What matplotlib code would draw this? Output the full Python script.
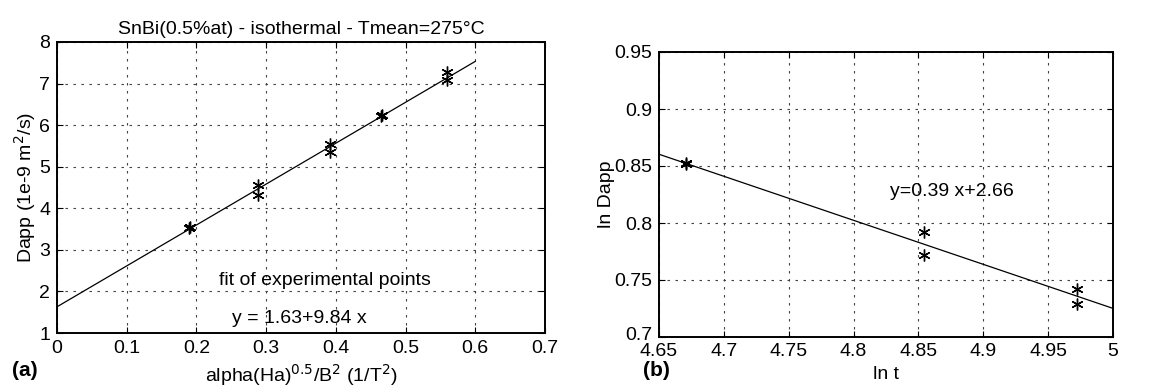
import matplotlib
matplotlib.use("Agg")
import matplotlib.pyplot as plt
import matplotlib.transforms as mtransforms
from matplotlib.ticker import FormatStrFormatter
import numpy as np

plt.rcParams['font.family'] = ['Liberation Sans', 'DejaVu Sans']

# ---- Panel (a) data ----
a_x = [0.190, 0.191, 0.288, 0.288, 0.392, 0.392, 0.465, 0.466, 0.560, 0.560]
a_y = [3.52, 3.54, 4.56, 4.32, 5.55, 5.36, 6.23, 6.25, 7.29, 7.09]
a_fit_intercept = 1.63
a_fit_slope = 9.84
a_fit_x = [0.0, 0.6]
a_xticks = [0, 0.1, 0.2, 0.3, 0.4, 0.5, 0.6, 0.7]
a_yticks = [1, 2, 3, 4, 5, 6, 7, 8]

# ---- Panel (b) data ----
b_x = [4.6705, 4.671, 4.8543, 4.8543, 4.972, 4.972]
b_y = [0.8515, 0.8525, 0.7924, 0.7719, 0.7418, 0.7287]
b_fit_slope = -0.3863
b_fit_intercept = 2.6566
b_fit_x = [4.65, 5.0]
b_xticks = [4.65, 4.7, 4.75, 4.8, 4.85, 4.9, 4.95, 5.0]
b_yticks = [0.7, 0.75, 0.8, 0.85, 0.9, 0.95]

fig = plt.figure(figsize=(11.49, 3.86), dpi=100)
ax1 = fig.add_axes([57/1149, 53/386, 488/1149, 291/386])
ax2 = fig.add_axes([659/1149, 49/386, 454/1149, 285/386])

star = (6, 2, 0)
grid_kw = dict(color='0.25', linestyle=(0, (2.2, 5.0)), linewidth=0.8)
FS = 14

def style(ax):
    for s in ax.spines.values():
        s.set_linewidth(1.4)
    ax.tick_params(direction='in', length=4, width=0.8, labelsize=FS,
                   top=True, right=True, pad=5)
    ax.grid(True, **grid_kw)
    ax.set_axisbelow(True)

# Panel (a)
fx = np.array(a_fit_x)
ax1.plot(fx, a_fit_intercept + a_fit_slope * fx, color='k', linewidth=0.9)
ax1.plot(a_x, a_y, linestyle='none', marker=star, markersize=8.5,
         markeredgecolor='k', markeredgewidth=1.0, color='k')
ax1.set_xlim(0, 0.7)
ax1.set_ylim(1, 8)
ax1.set_xticks(a_xticks)
ax1.set_yticks(a_yticks)
ax1.xaxis.set_major_formatter(FormatStrFormatter('%g'))
ax1.yaxis.set_major_formatter(FormatStrFormatter('%g'))
style(ax1)
ax1.set_title('SnBi(0.5%at) - isothermal - Tmean=275°C', fontsize=FS, pad=6)
ax1.set_xlabel(r'alpha(Ha)$^{0.5}$/B$^2$ (1/T$^2$)', fontsize=FS)
ax1.set_ylabel(r'Dapp (1e-9 m$^2$/s)', fontsize=FS)
ax1.xaxis.set_label_coords(0.5, -0.145)
ax1.yaxis.set_label_coords(-0.066, 0.5)
ax1.xaxis.label.set_va('center')
ax1.yaxis.label.set_va('center')
ax1.text(0.384, 2.27, 'fit of experimental points', fontsize=FS,
         ha='center', va='center')
ax1.text(0.348, 1.36, 'y = 1.63+9.84 x', fontsize=FS, ha='center', va='center')

# Panel (b)
gx = np.array(b_fit_x)
ax2.plot(gx, b_fit_intercept + b_fit_slope * gx, color='k', linewidth=0.9)
ax2.plot(b_x, b_y, linestyle='none', marker=star, markersize=8.5,
         markeredgecolor='k', markeredgewidth=1.0, color='k')
ax2.set_xlim(4.65, 5.0)
ax2.set_ylim(0.7, 0.95)
ax2.set_xticks(b_xticks)
ax2.set_yticks(b_yticks)
ax2.xaxis.set_major_formatter(FormatStrFormatter('%g'))
ax2.yaxis.set_major_formatter(FormatStrFormatter('%g'))
style(ax2)
ax2.tick_params(axis='x', pad=4)
ax2.set_xlabel('ln t', fontsize=FS)
ax2.set_ylabel('ln Dapp', fontsize=FS)
ax2.xaxis.set_label_coords(0.5, -0.133)
ax2.yaxis.set_label_coords(-0.115, 0.5)
ax2.xaxis.label.set_va('center')
ax2.yaxis.label.set_va('center')
ax2.text(4.876, 0.828, 'y=0.39 x+2.66', fontsize=FS, ha='center', va='center')

# nudge the lowest y tick label of panel (b) upward, like the reference
fig.canvas.draw()
lbl = ax2.get_yticklabels()[0]
lbl.set_transform(lbl.get_transform() +
                  mtransforms.ScaledTranslation(0, 4/100, fig.dpi_scale_trans))

fig.text(12/1149, 1 - 371/386, '(a)', fontsize=15, fontweight='bold',
         ha='left', va='center')
fig.text(643/1149, 1 - 371/386, '(b)', fontsize=15, fontweight='bold',
         ha='left', va='center')

fig.savefig('out.png', dpi=100)
